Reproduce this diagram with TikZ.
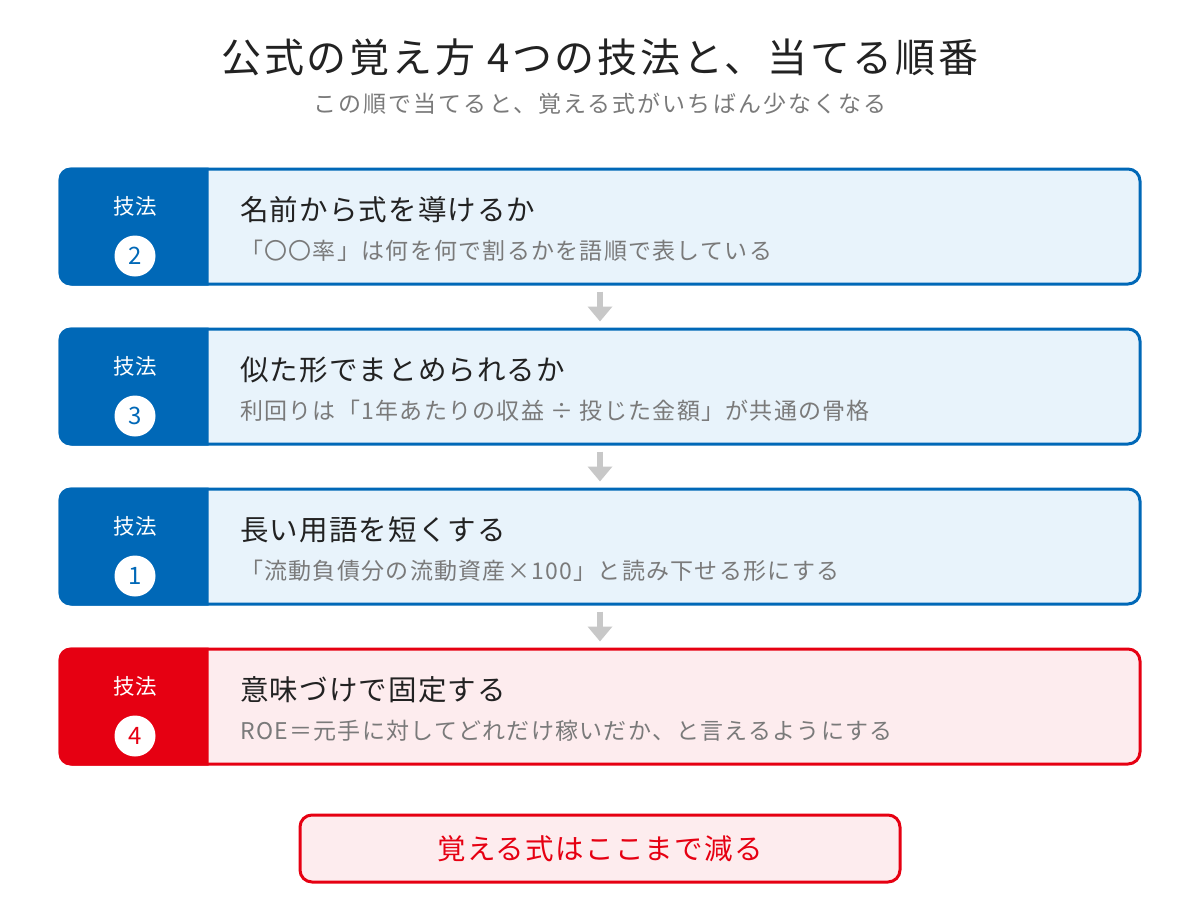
\documentclass[tikz,border=0pt]{standalone}
\usepackage{fontspec}
\setmainfont{Noto Sans CJK JP}
\usetikzlibrary{arrows.meta}
\definecolor{bluemain}{HTML}{0068B7}
\definecolor{bluelight}{HTML}{E8F3FB}
\definecolor{redmain}{HTML}{E60012}
\definecolor{redlight}{HTML}{FDECEE}
\definecolor{arrowgray}{HTML}{C8C8C8}
\definecolor{titlecol}{HTML}{222222}
\definecolor{subcol}{HTML}{7A7A7A}
\tikzset{
  fs/.style 2 args={font=\fontsize{#1}{#1}\selectfont\addfontfeatures{LetterSpace=#2}},
  card/.style={rectangle, rounded corners=12pt, line width=3pt, minimum width=1080pt, minimum height=115pt, inner sep=0pt},
  cardtitle/.style={anchor=west, fs={28.5}{4}, text=titlecol, inner sep=0pt},
  cardsub/.style={anchor=west, fs={23}{5.5}, text=subcol, inner sep=0pt},
  techlabel/.style={fs={21.5}{3}, text=white, inner sep=0pt},
  numcirc/.style={circle, fill=white, minimum size=41pt, inner sep=0pt, fs={24}{0}},
  flowarrow/.style={draw=arrowgray, line width=5.5pt, -{Triangle[width=24pt,length=15pt]}, arrowgray},
}
\newcommand{\mycard}[7]{%
  % #1 name, #2 center y, #3 main col, #4 light col, #5 number, #6 title, #7 sub
  \node[card, fill=#4] (#1) at (600,#2) {};
  \begin{scope}
    \clip (#1.north west) rectangle ([xshift=150pt]#1.south west);
    \fill[#3, rounded corners=12pt] (#1.north west) rectangle ([xshift=180pt]#1.south west);
  \end{scope}
  \draw[#3, line width=3pt, rounded corners=12pt] (60,#2-57.5) rectangle (1140,#2+57.5);
  \node[techlabel] (#1lab) at (135,#2-20.5) {技法};
  \node[numcirc, text=#3] (#1num) at (135,#2+29.5) {#5};
  \node[cardtitle] (#1title) at (240,#2-16.5) {#6};
  \node[cardsub] (#1sub) at (240,#2+24.5) {#7};
}
\begin{document}
\begin{tikzpicture}[x=1pt,y=-1pt]
\useasboundingbox[fill=white] (0,0) rectangle (1200,910);
\node[fs={40}{7}, text=titlecol] (title) at (600,57) {公式の覚え方 4つの技法と、当てる順番};
\node[fs={23}{9}, text=subcol] (subtitle) at (600,104) {この順で当てると、覚える式がいちばん少なくなる};

\mycard{c1}{226.5}{bluemain}{bluelight}{2}{名前から式を導けるか}{「〇〇率」は何を何で割るかを語順で表している}
\mycard{c2}{386.5}{bluemain}{bluelight}{3}{似た形でまとめられるか}{利回りは「1年あたりの収益 ÷ 投じた金額」が共通の骨格}
\mycard{c3}{546.5}{bluemain}{bluelight}{1}{長い用語を短くする}{「流動負債分の流動資産×100」と読み下せる形にする}
\mycard{c4}{706.5}{redmain}{redlight}{4}{意味づけで固定する}{ROE＝元手に対してどれだけ稼いだか、と言えるようにする}

\draw[flowarrow] ([yshift=-6pt]c1.south) -- ([yshift=6pt]c2.north);
\draw[flowarrow] ([yshift=-6pt]c2.south) -- ([yshift=6pt]c3.north);
\draw[flowarrow] ([yshift=-6pt]c3.south) -- ([yshift=6pt]c4.north);

\node[draw=redmain, fill=redlight, line width=3pt, rounded corners=12pt, minimum width=600pt, minimum height=67pt, fs={28.5}{4.5}, text=redmain, inner sep=0pt] (result) at (600,848.5) {覚える式はここまで減る};
\end{tikzpicture}
\end{document}
